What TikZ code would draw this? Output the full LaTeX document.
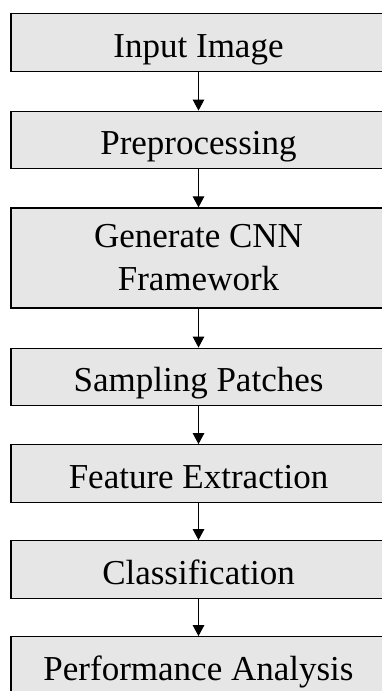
\documentclass[tikz,border=0pt]{standalone}
\usepackage{fontspec}
\setmainfont{Liberation Serif}
\usetikzlibrary{arrows.meta}
\definecolor{boxfill}{RGB}{230,230,230}
\tikzset{
  basebox/.style={draw=black, line width=1.3pt, fill=boxfill, minimum width=375pt,
    inner sep=0pt, align=center, font=\fontsize{35}{43}\selectfont},
  stepbox/.style={basebox, minimum height=57.5pt, text height=30pt, text depth=1pt},
  tallbox/.style={basebox, minimum height=100pt},
  flow/.style={draw=black, line width=1pt, -{Triangle[length=11pt,width=11.5pt]}}
}
\begin{document}
\begin{tikzpicture}[x=1pt,y=-1pt]
\useasboundingbox (0,0) rectangle (382,691);
\clip (0,0) rectangle (382,691);
\node[stepbox] (b1) at (198.5,42.5) {Input Image};
\node[stepbox] (b2) at (198.5,140) {Preprocessing};
\node[tallbox] (b3) at (198.5,258) {Generate CNN\\Framework};
\node[stepbox] (b4) at (198.5,377) {Sampling Patches};
\node[stepbox] (b5) at (198.5,473.5) {Feature Extraction};
\node[stepbox] (b6) at (198.5,569.5) {Classification};
\node[stepbox] (b7) at (198.5,665.5) {Performance Analysis};
\draw[flow] (b1) -- (b2);
\draw[flow] (b2) -- (b3);
\draw[flow] (b3) -- (b4);
\draw[flow] (b4) -- (b5);
\draw[flow] (b5) -- (b6);
\draw[flow] (b6) -- (b7);
\end{tikzpicture}
\end{document}
